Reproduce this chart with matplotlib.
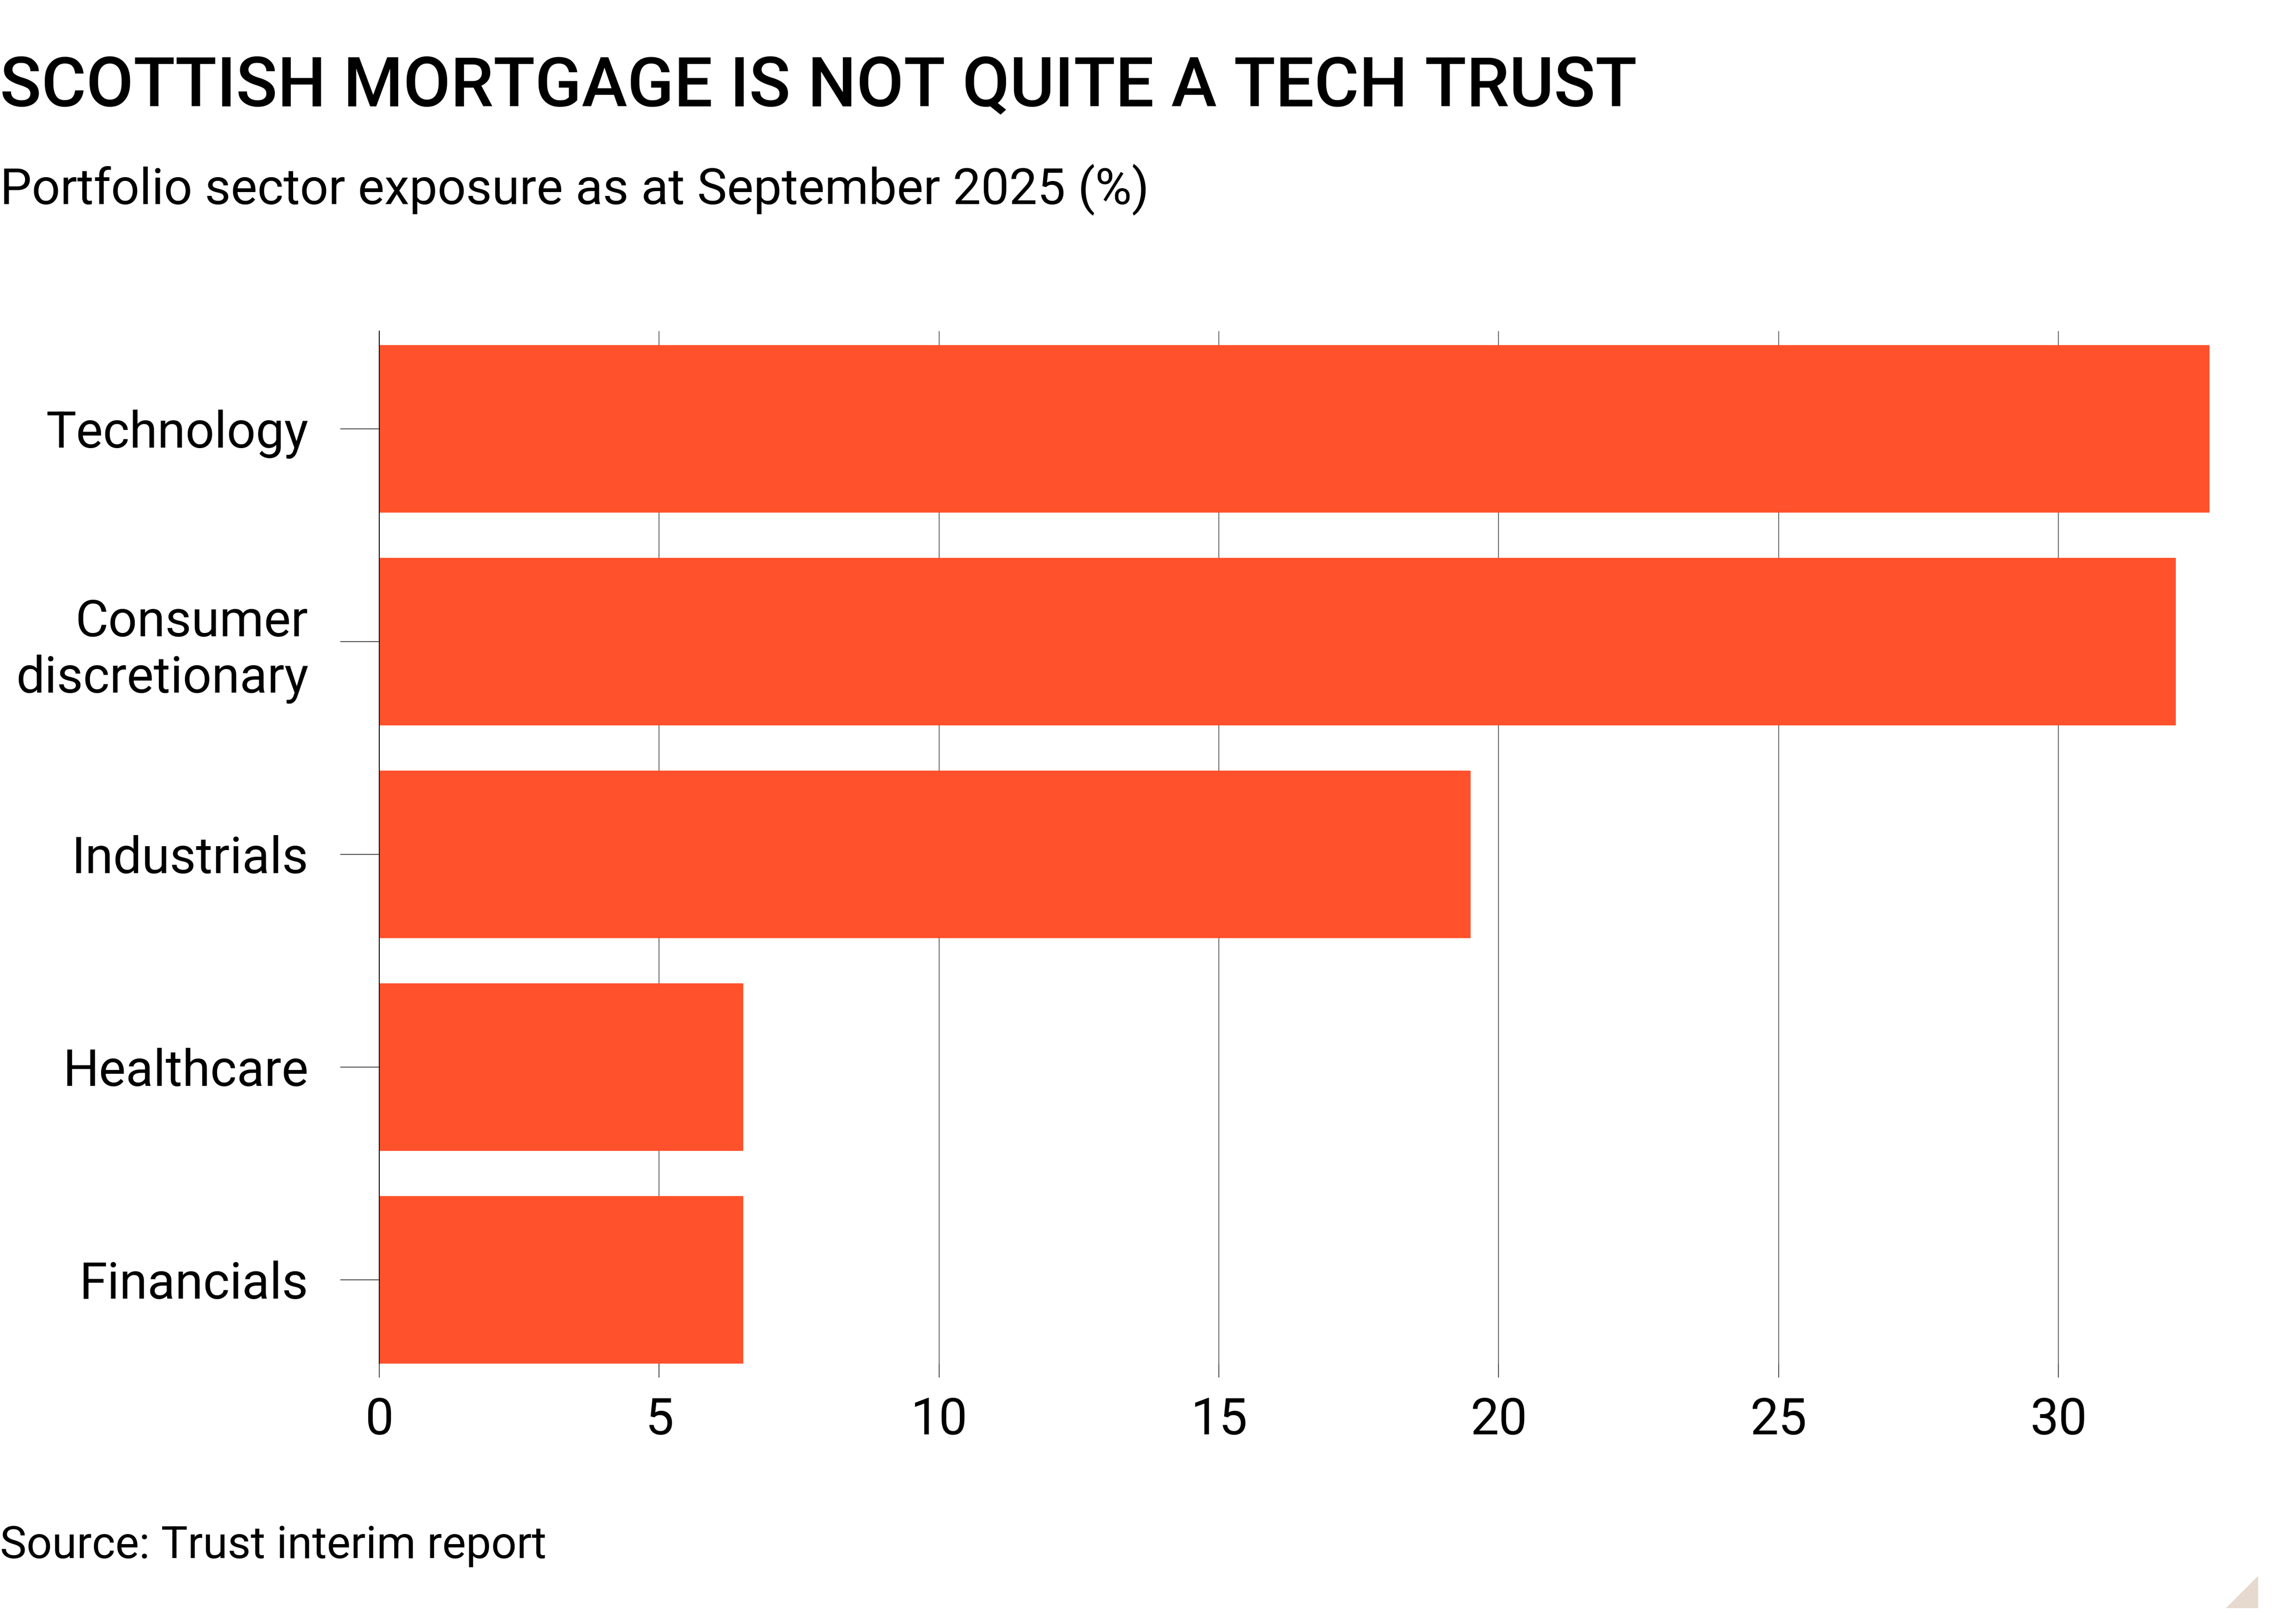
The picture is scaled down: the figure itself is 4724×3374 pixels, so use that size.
import matplotlib.pyplot as plt
from matplotlib.patches import Polygon

sectors = ['Technology', 'Consumer\ndiscretionary', 'Industrials', 'Healthcare', 'Financials']
exposure = [32.7, 32.1, 19.5, 6.5, 6.5]
xticks = [0, 5, 10, 15, 20, 25, 30]

BAR = '#FF512B'
plt.rcParams['font.family'] = ['Roboto', 'DejaVu Sans']

W, H = 4724, 3374
fig = plt.figure(figsize=(W / 100, H / 100), dpi=100)
fig.patch.set_facecolor('white')

ax = fig.add_axes([788 / W, 1 - 2833 / H, (4625 - 788) / W, (2833 - 688) / H])
ax.barh(range(len(sectors)), exposure, height=0.787, color=BAR, zorder=2)
ax.set_xlim(0, 33)
ax.set_ylim(4.394, -0.459)

ax.set_yticks(range(len(sectors)))
ax.set_yticklabels(sectors, fontsize=76, ha='right')
ax.set_xticks(xticks)
ax.set_xticklabels([str(t) for t in xticks], fontsize=76)

ax.set_axisbelow(True)
ax.grid(axis='x', color='#555555', linewidth=1.2)
for side in ['top', 'right', 'bottom']:
    ax.spines[side].set_visible(False)
ax.spines['left'].set_color('black')
ax.spines['left'].set_linewidth(1.4)

ax.tick_params(axis='y', length=58, width=1.2, color='#333333', pad=48)
ax.tick_params(axis='x', length=21, width=1.2, color='#333333', pad=28)

fig.text(0, 1 - 221 / H, 'SCOTTISH MORTGAGE IS NOT QUITE A TECH TRUST',
         fontsize=102.5, fontweight='medium', ha='left', va='baseline')
fig.text(0, 1 - 424 / H, 'Portfolio sector exposure as at September 2025 (%)',
         fontsize=75, ha='left', va='baseline')
fig.text(0, 1 - 3237 / H, 'Source: Trust interim report',
         fontsize=67, ha='left', va='baseline')

# corner mark
tri = Polygon([(4624 / W, 1 - 3341 / H), (4691 / W, 1 - 3341 / H), (4691 / W, 1 - 3274 / H)],
              closed=True, transform=fig.transFigure, facecolor='#E6D9CE', edgecolor='none')
fig.patches.append(tri)

fig.savefig('out.png', dpi=100, facecolor='white')
